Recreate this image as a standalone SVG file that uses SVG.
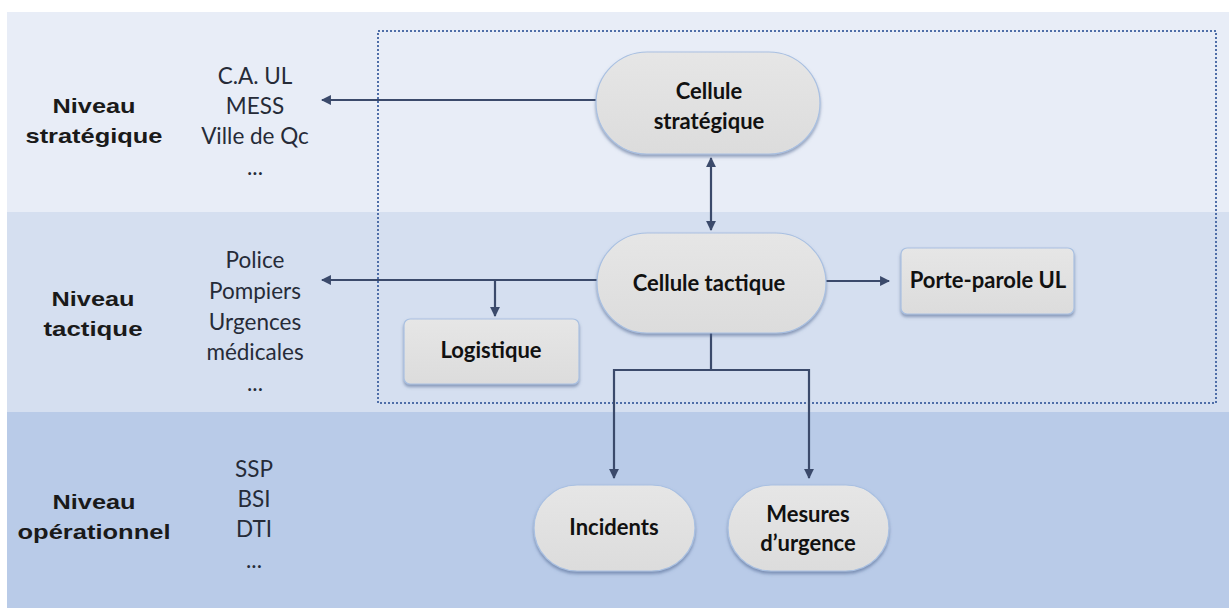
<svg xmlns="http://www.w3.org/2000/svg" width="1229" height="608" viewBox="0 0 1229 608">
<style>
.lvl{font-family:"Liberation Sans",Arial,sans-serif;font-weight:bold;font-size:21px;fill:#1a1a1a;text-anchor:middle}
.lst{font-family:Lato,"Open Sans",sans-serif;font-size:22.5px;fill:#262b38;text-anchor:middle}
.nt{font-family:Lato,"Open Sans",sans-serif;font-weight:bold;font-size:22px;fill:#111;text-anchor:middle}
.node{fill:url(#g);stroke:#a9c0e2;stroke-width:1.2;filter:url(#sh)}
.con{fill:none;stroke:#3b4a6b;stroke-width:2.2}
</style>
<defs>
<linearGradient id="g" x1="0" y1="0" x2="0" y2="1">
<stop offset="0" stop-color="#e6e6e6"/><stop offset="1" stop-color="#dcdcdc"/>
</linearGradient>
<filter id="sh" x="-10%" y="-10%" width="120%" height="130%">
<feDropShadow dx="0" dy="2.5" stdDeviation="1.5" flood-color="#4a5f8a" flood-opacity="0.55"/>
</filter>
<marker id="ah" viewBox="0 0 10 10" refX="9" refY="5" markerWidth="4.5" markerHeight="4.5" orient="auto-start-reverse">
<path d="M0,0 L10,5 L0,10 z" fill="#3b4a6b"/>
</marker>
</defs>
<rect x="0" y="0" width="1229" height="608" fill="#ffffff"/>
<rect x="7" y="12" width="1222" height="200" fill="#e8edf7"/>
<rect x="7" y="212" width="1222" height="200" fill="#d5dff0"/>
<rect x="7" y="412" width="1222" height="196" fill="#b9cbe8"/>
<rect x="378" y="31" width="838" height="372" fill="none" stroke="#4f6ea8" stroke-width="2" stroke-dasharray="2 2"/>

<g id="labels">
<text class="lvl" x="94" y="113" textLength="83" lengthAdjust="spacingAndGlyphs">Niveau</text>
<text class="lvl" x="94" y="143" textLength="137" lengthAdjust="spacingAndGlyphs">stratégique</text>
<text class="lst" x="255" y="84">C.A. UL</text>
<text class="lst" x="255" y="114">MESS</text>
<text class="lst" x="255" y="144">Ville de Qc</text>
<text class="lst" x="255" y="175">...</text>
<text class="lvl" x="93" y="306" textLength="83" lengthAdjust="spacingAndGlyphs">Niveau</text>
<text class="lvl" x="93" y="336" textLength="99" lengthAdjust="spacingAndGlyphs">tactique</text>
<text class="lst" x="255" y="268">Police</text>
<text class="lst" x="255" y="299">Pompiers</text>
<text class="lst" x="255" y="330">Urgences</text>
<text class="lst" x="255" y="360">médicales</text>
<text class="lst" x="255" y="391">...</text>
<text class="lvl" x="94" y="509" textLength="83" lengthAdjust="spacingAndGlyphs">Niveau</text>
<text class="lvl" x="94" y="539" textLength="153" lengthAdjust="spacingAndGlyphs">opérationnel</text>
<text class="lst" x="254" y="477">SSP</text>
<text class="lst" x="254" y="507">BSI</text>
<text class="lst" x="254" y="537">DTI</text>
<text class="lst" x="254" y="568">...</text>
</g>

<g id="connectors">
<path class="con" d="M596,100 H322" marker-end="url(#ah)"/>
<path class="con" d="M711,158 V230" marker-start="url(#ah)" marker-end="url(#ah)"/>
<path class="con" d="M597,280 H322" marker-end="url(#ah)"/>
<path class="con" d="M495,280 V316" marker-end="url(#ah)"/>
<path class="con" d="M826,281 H889" marker-end="url(#ah)"/>
<path class="con" d="M711,333 V370 M614,370 H809"/>
<path class="con" d="M614,369 V478" marker-end="url(#ah)"/>
<path class="con" d="M809,369 V478" marker-end="url(#ah)"/>
</g>

<g id="cellule-strategique">
<rect class="node" x="596" y="52" width="224" height="102" rx="51"/>
<text class="nt" x="709" y="99">Cellule</text>
<text class="nt" x="709" y="129">stratégique</text>
</g>
<g id="cellule-tactique">
<rect class="node" x="597" y="233" width="229" height="100" rx="50"/>
<text class="nt" x="709" y="291">Cellule tactique</text>
</g>
<g id="logistique">
<rect class="node" x="404" y="319" width="175" height="65" rx="6"/>
<text class="nt" x="491" y="358">Logistique</text>
</g>
<g id="porte-parole">
<rect class="node" x="901" y="248" width="173" height="66" rx="6"/>
<text class="nt" x="988" y="288">Porte-parole UL</text>
</g>
<g id="incidents">
<rect class="node" x="534" y="485" width="161" height="86" rx="43"/>
<text class="nt" x="614" y="535">Incidents</text>
</g>
<g id="mesures">
<rect class="node" x="728" y="485" width="161" height="86" rx="43"/>
<text class="nt" x="808" y="522">Mesures</text>
<text class="nt" x="808" y="551">d’urgence</text>
</g>
</svg>
